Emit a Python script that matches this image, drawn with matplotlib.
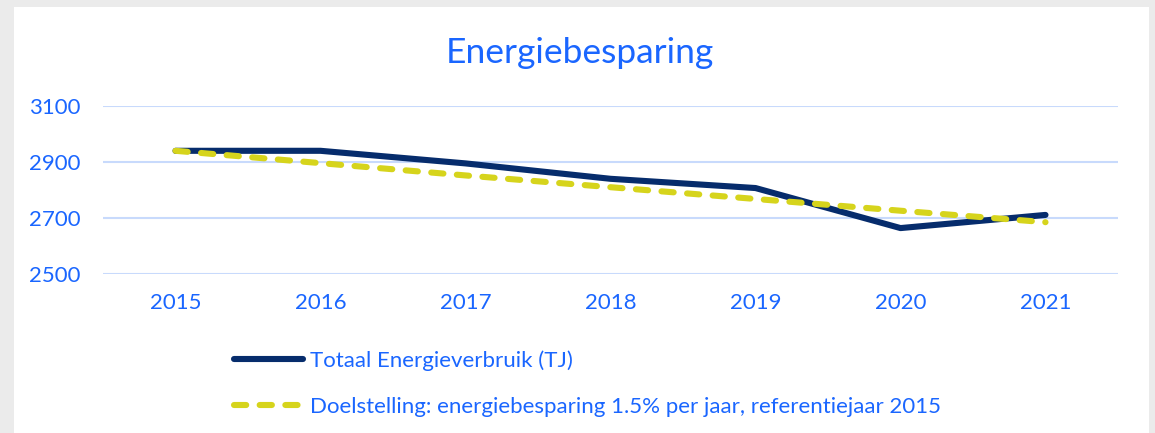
import matplotlib
matplotlib.use("Agg")
import matplotlib.pyplot as plt
from matplotlib.patches import Rectangle
from matplotlib.lines import Line2D

years = ["2015", "2016", "2017", "2018", "2019", "2020", "2021"]
totaal = [2940, 2940, 2895, 2840, 2807, 2664, 2711]
doel = [2940, 2896, 2852, 2810, 2768, 2726, 2685]
yticks = [2500, 2700, 2900, 3100]
title = "Energiebesparing"
label_totaal = "Totaal Energieverbruik (TJ)"
label_doel = "Doelstelling: energiebesparing 1.5% per jaar, referentiejaar 2015"

BLUE = "#1a66ff"
NAVY = "#062c6c"
YELLOW = "#d6d41c"
GRID = "#c8dafc"

plt.rcParams['font.family'] = ['Lato', 'DejaVu Sans']

W, H = 1155, 433
fig = plt.figure(figsize=(W / 100, H / 100), dpi=100)
fig.patch.set_facecolor("#ebebeb")
bg = Rectangle((14 / W, 0), (1149 - 14) / W, 1 - 7 / H,
               transform=fig.transFigure, facecolor="white",
               edgecolor="none", zorder=-10)
fig.add_artist(bg)

ax = fig.add_axes([103 / W, 1 - 274 / H, (1118 - 103) / W, (274 - 106) / H])
ax.set_zorder(1)
ax.set_facecolor("none")
x = list(range(len(years)))
ax.plot(x, totaal, color=NAVY, lw=4.4, solid_capstyle="round", zorder=3)
ax.plot(x, doel, color=YELLOW, lw=4.4, dashes=(2.0, 2.2),
        dash_capstyle="round", zorder=4)

ax.set_xlim(-0.5, len(years) - 0.5)
ax.set_ylim(2500, 3100)
ax.set_yticks(yticks)
ax.set_yticklabels([str(v) for v in yticks])
ax.set_xticks(x)
ax.set_xticklabels(years)
ax.tick_params(axis="both", length=0, labelsize=16, labelcolor=BLUE)
ax.tick_params(axis="y", pad=16)
ax.tick_params(axis="x", pad=14)
ax.grid(axis="y", color=GRID, lw=1.5)
ax.set_axisbelow(True)
for s in ax.spines.values():
    s.set_visible(False)

fig.text(580 / W, 1 - 53 / H, title, color=BLUE, fontsize=25.5,
         ha="center", va="center")

handles = [Line2D([], [], color=NAVY, lw=4.4, solid_capstyle="round"),
           Line2D([], [], color=YELLOW, lw=4.4, dashes=(2.0, 2.2),
                  dash_capstyle="round")]
leg = fig.legend(handles, [label_totaal, label_doel], loc="upper left",
                 bbox_to_anchor=(214 / W, 1 - 330 / H), frameon=False,
                 fontsize=16, handlelength=3.1, handletextpad=0.3,
                 labelspacing=1.2, labelcolor=BLUE)

fig.savefig("out.png", dpi=100, facecolor=fig.get_facecolor())
